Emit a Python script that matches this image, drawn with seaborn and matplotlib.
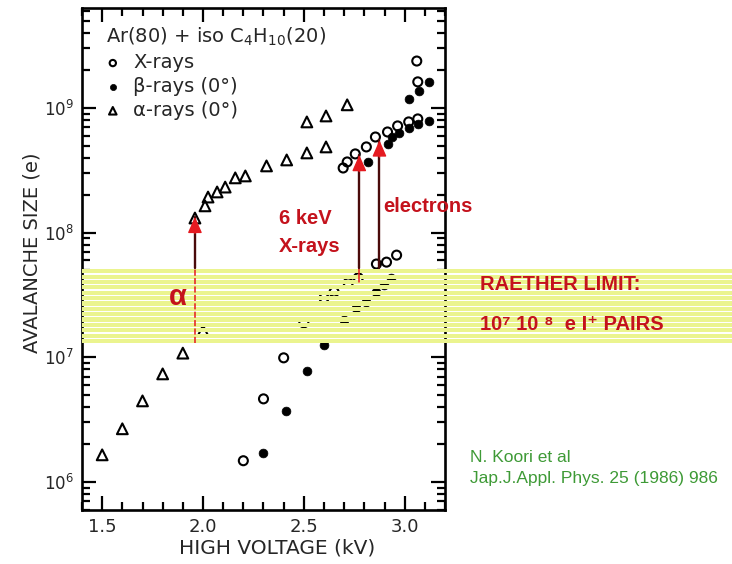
import numpy as np
import matplotlib
matplotlib.use("Agg")
import matplotlib.pyplot as plt
from matplotlib.ticker import LogLocator, FixedLocator, MultipleLocator, LogFormatterMathtext, NullFormatter
import seaborn as sns

# --- measured avalanche sizes, Ar(80) + isoC4H10(20) ---
xray_kv = [2.2, 2.3, 2.4, 2.5, 2.6, 2.65, 2.72, 2.77, 2.86, 2.91, 2.96,
           2.695, 2.715, 2.755, 2.81, 2.855, 2.915, 2.965, 3.02, 3.065, 3.065, 3.06]
xray_e = [1.48e6, 4.64e6, 9.9e6, 1.89e7, 2.99e7, 3.34e7, 3.95e7, 4.34e7, 5.6e7, 5.8e7, 6.6e7,
          3.3e8, 3.69e8, 4.28e8, 4.87e8, 5.85e8, 6.42e8, 7.18e8, 7.73e8, 8.17e8, 1.62e9, 2.38e9]

beta_kv = [2.3, 2.41, 2.515, 2.6, 2.7, 2.76, 2.81, 2.86, 2.9, 2.93,
           2.82, 2.915, 2.935, 2.97, 3.02, 3.065, 3.12, 3.02, 3.07, 3.12]
beta_e = [1.71e6, 3.72e6, 7.78e6, 1.26e7, 2.0e7, 2.49e7, 2.78e7, 3.34e7, 3.81e7, 4.34e7,
          3.69e8, 5.14e8, 5.85e8, 6.3e8, 6.92e8, 7.45e8, 7.87e8, 1.18e9, 1.37e9, 1.62e9]

alpha_kv = [1.5, 1.6, 1.7, 1.8, 1.9, 2.0, 1.96, 2.01, 2.025, 2.07, 2.11, 2.16, 2.21,
            2.315, 2.415, 2.515, 2.61, 2.515, 2.61, 2.715]
alpha_e = [1.65e6, 2.67e6, 4.47e6, 7.36e6, 1.08e7, 1.63e7, 1.31e8, 1.64e8, 1.93e8, 2.12e8,
           2.32e8, 2.75e8, 2.85e8, 3.43e8, 3.83e8, 4.36e8, 4.87e8, 7.73e8, 8.63e8, 1.06e9]

# Raether limit band and the three marked transitions
raether_lo, raether_hi = 1.3e7, 5.2e7
arrow_kv = [1.96, 2.775, 2.875]
arrow_tip = [1.34e8, 4.2e8, 5.5e8]
arrow_base = [1.3e7, 4.0e7, 5.2e7]

x_major = [1.5, 2.0, 2.5, 3.0]

sns.set_style("ticks")
plt.rcParams["font.family"] = ["DejaVu Sans"]
plt.rcParams["mathtext.default"] = "regular"

W, H = 732, 564
fig = plt.figure(figsize=(W / 100, H / 100), dpi=100)
fig.patch.set_facecolor("white")
ax = fig.add_axes([82 / W, 1 - 510 / H, (445 - 82) / W, (510 - 8) / H])
ax.set_facecolor("white")

ax.set_yscale("log")
ax.set_xlim(1.4, 3.2)
ax.set_ylim(10 ** 5.775, 10 ** 9.802)

sns.scatterplot(x=xray_kv, y=xray_e, ax=ax, marker="o", s=42,
                facecolor="none", edgecolor="black", linewidth=1.5,
                label="X-rays", zorder=3)
sns.scatterplot(x=beta_kv, y=beta_e, ax=ax, marker="o", s=40,
                color="black", edgecolor="black", linewidth=0.5,
                label="β-rays (0°)", zorder=3)
sns.scatterplot(x=alpha_kv, y=alpha_e, ax=ax, marker="^", s=60,
                facecolor="none", edgecolor="black", linewidth=1.5,
                label="α-rays (0°)", zorder=3)

# striped yellow overlay marking the Raether limit region
band_right = (W - 82) / (445 - 82)
n_strips = 14
edges = np.geomspace(raether_lo, raether_hi, n_strips + 1)
for lo, hi in zip(edges[:-1], edges[1:]):
    top = lo * (hi / lo) ** 0.78
    ax.axhspan(lo, top, xmin=0, xmax=band_right, color="#ebf48f",
               lw=0, clip_on=False, zorder=4)

red = "#c4121c"
head_red = "#e51a20"
shaft = "#4a0a0a"
for kv, tip, base in zip(arrow_kv, arrow_tip, arrow_base):
    if base < raether_hi:
        ax.plot([kv, kv], [base, raether_hi], color=head_red, lw=1.1,
                ls=(0, (4, 1.5)) if base < 2e7 else "-", zorder=5)
    ax.plot([kv, kv], [raether_hi, tip], color=shaft, lw=1.7, zorder=5)
    ax.annotate("", xy=(kv, tip), xytext=(0, -12), textcoords="offset points",
                arrowprops=dict(arrowstyle="-|>,head_length=0.5,head_width=0.22",
                                color=head_red, lw=1.0, shrinkA=0, shrinkB=0,
                                mutation_scale=20),
                zorder=6)

# axes styling
for sp in ax.spines.values():
    sp.set_linewidth(1.9)
    sp.set_color("black")
ax.xaxis.set_major_locator(FixedLocator(x_major))
ax.xaxis.set_minor_locator(MultipleLocator(0.1))
ax.xaxis.set_major_formatter(matplotlib.ticker.FormatStrFormatter("%.1f"))
ax.yaxis.set_major_locator(LogLocator(base=10, numticks=20))
ax.yaxis.set_minor_locator(LogLocator(base=10, subs=np.arange(2, 10), numticks=40))
ax.yaxis.set_major_formatter(LogFormatterMathtext())
ax.yaxis.set_minor_formatter(NullFormatter())
ax.tick_params(which="both", direction="in", top=True, right=True,
               width=1.6, color="black", labelsize=13, pad=6)
ax.tick_params(axis="y", labelsize=12, pad=6)
ax.tick_params(which="major", length=10)
ax.tick_params(which="minor", length=6)

ax.set_xlabel("HIGH VOLTAGE (kV)", fontsize=14.5)
ax.xaxis.set_label_coords((277 - 82) / 363, -(538 - 510) / 502)
ax.set_ylabel("AVALANCHE SIZE (e)", fontsize=14)
ax.yaxis.set_label_coords(-(82 - 42) / 363, (510 - 253) / 502)

leg = ax.legend(title=r"Ar(80) + iso C$_4$H$_{10}$(20)", loc="upper left",
                bbox_to_anchor=((106 - 82) / 363, (510 - 26) / 502),
                frameon=False, fontsize=14, title_fontsize=14,
                alignment="left", markerscale=0.7, handlelength=0.7,
                handletextpad=0.7, labelspacing=0.25, borderpad=0,
                borderaxespad=0)
leg.set_zorder(7)

# annotations
bold = dict(family=["Liberation Sans", "DejaVu Sans"], fontweight="bold", color=red)


def place(px, py, s, **kw):
    fig.text(px / W, 1 - py / H, s, va="center", **kw)


place(178, 297, "α", fontsize=21, ha="center", **bold)
place(279, 219, "6 keV", fontsize=14.5, **bold)
place(279, 246, "X-rays", fontsize=14.5, **bold)
place(383, 206, "electrons", fontsize=14.5, **bold)
place(480, 285, "RAETHER LIMIT:", fontsize=14.5, **bold)
place(480, 324, "10⁷ 10 ⁸  e I⁺ PAIRS", fontsize=14.5, **bold)

green = dict(family=["Liberation Sans", "DejaVu Sans"], color="#3e9a36", fontsize=12.5)
place(470, 457, "N. Koori et al", **green)
place(470, 478, "Jap.J.Appl. Phys. 25 (1986) 986", **green)

fig.savefig("out.png", dpi=100)
